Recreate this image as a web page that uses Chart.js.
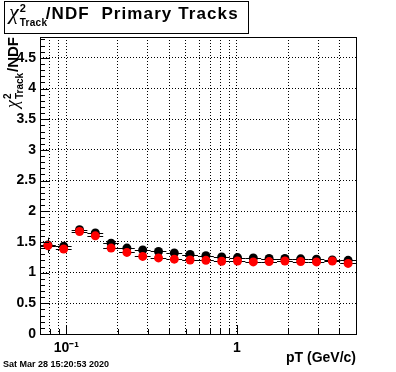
<!DOCTYPE html>
<html>
<head>
<meta charset="utf-8">
<script src="https://cdn.jsdelivr.net/npm/chart.js@4"></script>
<style>
  body { margin: 0; background: #fff; }
  #wrap { position: relative; width: 396px; height: 372px; }
  canvas { position: absolute; left: 0; top: 0; }
  .txt { position: absolute; font-family: 'Liberation Sans', Arial, sans-serif; font-weight: bold; color: #000; white-space: nowrap; }
  #tbox { position: absolute; left: 4px; top: 1px; width: 243px; height: 31px; border: 1px solid #000; background: #fff; }
  #title { left: 9px; top: 0px; font-size: 17px; line-height: 24px; letter-spacing: 1.1px; }
  #ytitle { left: 0; top: 0; width: 100px; text-align: right; font-size: 15px; line-height: 20px;
            transform: translate(2px, 137px) rotate(-90deg); transform-origin: 0 0; }
  .chi { font-family: 'Liberation Serif', serif; font-style: italic; font-weight: normal; letter-spacing: 0; }
  .ss { display: inline-block; position: relative; height: 0; letter-spacing: 0; }
  .ss span { position: absolute; left: 1px; }
  #date { left: 3px; top: 360px; font-size: 9px; line-height: 9px; }
</style>
</head>
<body>
<div id="wrap">
  <canvas id="graf" width="396" height="372"></canvas>
  <div id="tbox"></div>
  <div class="txt" id="title"><span class="chi" style="font-size:22px">χ</span><span class="ss" style="width:27px"><span style="font-size:11px;line-height:11px;bottom:5px">2</span><span style="font-size:10px;line-height:10px;top:-1px;letter-spacing:0.3px">Track</span></span>/NDF&nbsp;&nbsp;Primary Tracks</div>
  <div class="txt" id="ytitle"><span class="chi" style="font-size:18px">χ</span><span class="ss" style="width:28px"><span style="font-size:10px;line-height:10px;bottom:5px">2</span><span style="font-size:10px;line-height:10px;top:-3px">Track</span></span>/NDF</div>
  <div class="txt" id="date">Sat Mar 28 15:20:53 2020</div>
</div>
<script>
// bins in pT (log binning, 20 bins from 0.07 to 5 GeV/c)
const binEdges = [0.07, 0.0867, 0.1073, 0.1328, 0.1644, 0.2035, 0.2519, 0.3118, 0.3860, 0.4779,
                  0.5916, 0.7323, 0.9066, 1.1223, 1.3893, 1.7198, 2.1290, 2.6356, 3.2626, 4.0388, 5.0]
const binCenters = [0.0779, 0.0964, 0.1194, 0.1478, 0.1829, 0.2264, 0.2803, 0.3470, 0.4295, 0.5317,
                    0.6582, 0.8148, 1.0087, 1.2487, 1.5458, 1.9135, 2.3688, 2.9324, 3.6300, 4.4937]

// chi2/NDF values
const blackVals = [1.45, 1.43, 1.70, 1.645, 1.48, 1.40, 1.37, 1.345, 1.32, 1.295,
                   1.275, 1.255, 1.245, 1.24, 1.23, 1.23, 1.225, 1.22, 1.205, 1.20]
const blackErr = [0.12, 0.06, 0.03, 0.03, 0.02, 0.02, 0.01, 0.01, 0.01, 0.01,
                  0.01, 0.01, 0.01, 0.01, 0.01, 0.01, 0.01, 0.01, 0.01, 0.01]
const redVals = [1.44, 1.385, 1.67, 1.60, 1.40, 1.33, 1.265, 1.24, 1.22, 1.205,
                 1.20, 1.185, 1.19, 1.175, 1.18, 1.19, 1.18, 1.175, 1.19, 1.15]
const redErr = [0.12, 0.06, 0.03, 0.03, 0.02, 0.02, 0.01, 0.01, 0.01, 0.01,
                0.01, 0.01, 0.01, 0.01, 0.01, 0.01, 0.01, 0.01, 0.01, 0.01]

// axis ticks
const xTicks = [0.08, 0.09, 0.1, 0.2, 0.3, 0.4, 0.5, 0.6, 0.7, 0.8, 0.9, 1, 2, 3, 4]
const xLabels = { 0.1: '10\u207B\u00B9', 1: '1' }
const yTicks = [0, 0.5, 1, 1.5, 2, 2.5, 3, 3.5, 4, 4.5]
const yLabels = ['0', '0.5', '1', '1.5', '2', '2.5', '3', '3.5', '4', '4.5']

const font = { family: "'Liberation Sans', Arial, sans-serif", weight: 'bold', size: 14 }

const toPoints = (vals) => vals.map((v, i) => ({ x: binCenters[i], y: v }))

// error bars + ROOT style frame with ticks inside
const rootFrame = {
    id: 'rootFrame',
    beforeDatasetDraw(chart, args) {
        const ds = chart.data.datasets[args.index]
        const xs = chart.scales.x, ys = chart.scales.y, c = chart.ctx
        c.save()
        c.strokeStyle = '#000'
        c.lineWidth = 1
        c.beginPath()
        ds.data.forEach((p, i) => {
            const y = Math.round(ys.getPixelForValue(p.y)) + 0.5
            c.moveTo(xs.getPixelForValue(binEdges[i]), y)
            c.lineTo(xs.getPixelForValue(binEdges[i + 1]), y)
            const x = Math.round(xs.getPixelForValue(p.x)) + 0.5
            c.moveTo(x, ys.getPixelForValue(p.y - ds.errY[i]))
            c.lineTo(x, ys.getPixelForValue(p.y + ds.errY[i]))
        })
        c.stroke()
        c.restore()
    },
    afterDraw(chart) {
        const a = chart.chartArea, xs = chart.scales.x, ys = chart.scales.y, c = chart.ctx
        c.save()
        c.strokeStyle = '#000'
        c.lineWidth = 1
        c.beginPath()
        // y ticks every 0.1, long every 0.5
        for (let k = 1; k <= 48; k++) {
            const y = Math.round(ys.getPixelForValue(k / 10)) + 0.5
            const len = k % 5 === 0 ? 9 : 5
            c.moveTo(a.left, y)
            c.lineTo(a.left + len, y)
        }
        xTicks.forEach(v => {
            const x = Math.round(xs.getPixelForValue(v)) + 0.5
            const len = (v === 0.1 || v === 1) ? 9 : 5
            c.moveTo(x, a.bottom)
            c.lineTo(x, a.bottom - len)
        })
        c.stroke()
        c.strokeRect(Math.round(a.left) + 0.5, Math.round(a.top) + 0.5,
                     Math.round(a.right - a.left), Math.round(a.bottom - a.top))
        c.restore()
    }
}

const ctx = document.getElementById('graf').getContext('2d')

const config = {
    type: 'scatter',
    data: {
        datasets: [{
            label: 'red',
            data: toPoints(redVals),
            errY: redErr,
            backgroundColor: '#ff0000',
            borderWidth: 0,
            pointRadius: 4.5,
            clip: false
        }, {
            label: 'black',
            data: toPoints(blackVals),
            errY: blackErr,
            backgroundColor: '#000000',
            borderWidth: 0,
            pointRadius: 4.5,
            clip: false
        }]
    },
    options: {
        responsive: false,
        animation: false,
        devicePixelRatio: 1,
        layout: { padding: { top: 37, right: 40, left: 0, bottom: 0 } },
        plugins: {
            legend: { display: false },
            tooltip: { enabled: false }
        },
        scales: {
            x: {
                type: 'logarithmic',
                min: 0.07,
                max: 5,
                afterBuildTicks: s => { s.ticks = xTicks.map(v => ({ value: v })) },
                afterFit: s => { s.height = 38 },
                ticks: {
                    callback: v => xLabels[v] || '',
                    autoSkip: false,
                    maxRotation: 0,
                    minRotation: 0,
                    padding: 6,
                    color: '#000',
                    font: font
                },
                grid: { color: '#000', lineWidth: 1, drawTicks: false },
                border: { display: false, dash: [1, 2] },
                title: {
                    display: true,
                    text: 'pT (GeV/c)',
                    align: 'end',
                    color: '#000',
                    font: font,
                    padding: { top: 0, bottom: 5 }
                }
            },
            y: {
                min: 0,
                max: 4.84,
                afterBuildTicks: s => { s.ticks = yTicks.map(v => ({ value: v })) },
                afterFit: s => { s.width = 40 },
                ticks: {
                    callback: (v, i) => yLabels[i],
                    padding: 4,
                    color: '#000',
                    font: font
                },
                grid: { color: '#000', lineWidth: 1, drawTicks: false },
                border: { display: false, dash: [1, 2] }
            }
        }
    },
    plugins: [rootFrame]
}

const grafic = new Chart(ctx, config)
</script>
</body>
</html>
